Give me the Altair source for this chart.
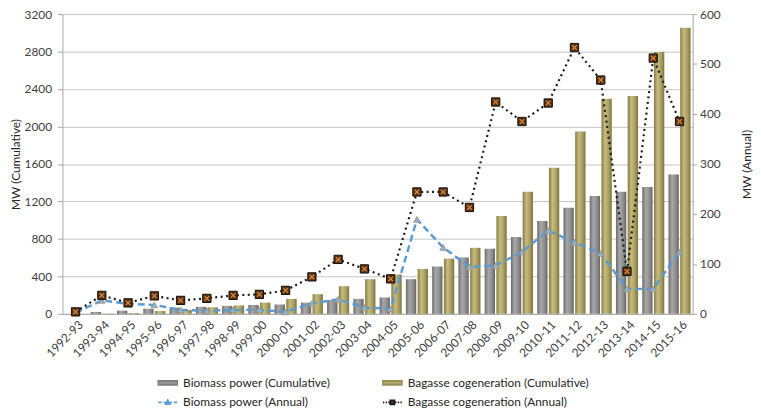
import altair as alt
import pandas as pd

years = ['1992-93', '1993-94', '1994-95', '1995-96', '1996-97', '1997-98', '1998-99', '1999-00',
         '2000-01', '2001-02', '2002-03', '2003-04', '2004-05', '2005-06', '2006-07', '2007-08',
         '2008-09', '2009-10', '2010-11', '2011-12', '2012-13', '2013-14', '2014-15', '2015-16']
biomass_cum = [0, 20, 34, 55, 65, 75, 85, 95, 100, 120, 147, 160, 175, 370, 505, 602,
               695, 820, 992, 1132, 1259, 1303, 1354, 1488]
bagasse_cum = [0, 5, 8, 30, 40, 70, 90, 120, 160, 210, 295, 370, 420, 480, 590, 705,
               1045, 1303, 1560, 1947, 2297, 2325, 2795, 3055]
biomass_ann = [2, 27, 20, 18, 8, 6, 8, 8, 4, 21, 29, 13, 10, 189, 133, 94,
               97, 124, 167, 143, 121, 50, 50, 124]
bagasse_ann = [4, 37, 22, 36, 27, 31, 37, 39, 47, 74, 109, 90, 70, 244, 244, 213,
               424, 385, 422, 533, 468, 85, 512, 385]
left_ticks = [0, 400, 800, 1200, 1600, 2000, 2400, 2800, 3200]
right_ticks = [0, 100, 200, 300, 400, 500, 600]

S_BC = 'Biomass power (Cumulative)'
S_GC = 'Bagasse cogeneration (Cumulative)'
S_BA = 'Biomass power (Annual)'
S_GA = 'Bagasse cogeneration (Annual)'
n = len(years)

cum = pd.DataFrame({'year': years * 2, 'series': [S_BC] * n + [S_GC] * n,
                    'value': biomass_cum + bagasse_cum})
ann = pd.DataFrame({'year': years * 2, 'series': [S_BA] * n + [S_GA] * n,
                    'value': biomass_ann + bagasse_ann})

FONT = 'Lato'
AX = '#a6a6a6'
LBL = '#404040'
H = 303

X = alt.X('year:N', sort=years, title=None,
          scale=alt.Scale(type='band', paddingInner=0.16, paddingOuter=0.08),
          axis=alt.Axis(labelAngle=315, ticks=False, domainColor=AX, labelColor=LBL,
                        labelFontSize=12, labelPadding=5, labelOffset=2, grid=False,
                        labelOverlap=False))

YL = alt.Y('value:Q', scale=alt.Scale(domain=[0, 3200], nice=False),
           axis=alt.Axis(orient='left', values=left_ticks, format='d', tickSize=5, tickColor=AX,
                         domainColor=AX, grid=True, gridColor='#c4c4c4', labelColor=LBL,
                         labelFontSize=12, labelPadding=6, labelFlush=False,
                         title='MW (Cumulative)', titleFontSize=12, titleFontWeight='normal',
                         titleColor='#262626', titleAngle=270, titleX=-47, titleY=H / 2,
                         titleAlign='center', titleBaseline='middle'))

YR = alt.Y('value:Q', scale=alt.Scale(domain=[0, 600], nice=False),
           axis=alt.Axis(orient='right', values=right_ticks, format='d', tickSize=4, tickColor=AX,
                         domainColor=AX, grid=False, labelColor=LBL, labelFontSize=12,
                         labelPadding=3, labelFlush=False,
                         title='MW (Annual)', titleFontSize=12, titleFontWeight='normal',
                         titleColor='#262626', titleAngle=270, titleX=54, titleY=H / 2,
                         titleAlign='center', titleBaseline='middle'))

XO = alt.XOffset('series:N', sort=[S_BC, S_GC],
                 scale=alt.Scale(domain=[S_BC, S_GC], paddingInner=0.12))


def grad(stops):
    return alt.Gradient(gradient='linear', x1=0, x2=1, y1=0, y2=0,
                        stops=[alt.GradientStop(offset=o, color=c) for o, c in stops])


gray_grad = grad([(0, '#6c6c6c'), (0.35, '#a8a8a8'), (0.7, '#8e8e8e'), (1, '#666666')])
olive_grad = grad([(0, '#857b42'), (0.35, '#c6bc80'), (0.7, '#a99f62'), (1, '#7d733b')])

base_cum = alt.Chart(cum)
bars_bio = base_cum.mark_bar(fill=gray_grad).encode(x=X, xOffset=XO, y=YL).transform_filter(
    alt.datum.series == S_BC)
bars_bag = base_cum.mark_bar(fill=olive_grad).encode(x=X, xOffset=XO, y=YL).transform_filter(
    alt.datum.series == S_GC)
bars = alt.layer(bars_bio, bars_bag)

base_ann = alt.Chart(ann)
line_bio = base_ann.mark_line(stroke='#5b9bd5', strokeWidth=2.5, strokeDash=[7, 4]).encode(
    x=X, y=YR).transform_filter(alt.datum.series == S_BA)
tri = base_ann.mark_point(shape='triangle-up', filled=True, fill='#7fb9e2', stroke='#b08a60',
                          strokeWidth=0.8, size=45, opacity=1).encode(
    x=X, y=YR).transform_filter(alt.datum.series == S_BA)
line_bag = base_ann.mark_line(stroke='#1a1a1a', strokeWidth=2.2, strokeDash=[2, 3.5]).encode(
    x=X, y=YR).transform_filter(alt.datum.series == S_GA)
sq = base_ann.mark_point(shape='square', filled=True, fill='#5b3110', stroke='#111111',
                         strokeWidth=1, size=70, opacity=1).encode(
    x=X, y=YR).transform_filter(alt.datum.series == S_GA)
xs = base_ann.mark_point(shape='M-1,-1L1,1M1,-1L-1,1', filled=False, stroke='#e08a3c',
                         strokeWidth=1.2, size=22, opacity=1).encode(
    x=X, y=YR).transform_filter(alt.datum.series == S_GA)

# legend entries ordered so that the 2-column grid reads like the reference
leg_names = [S_BC, S_BA, S_GC, S_GA]
bar_path = 'M-1,-0.2H1V0.2H-1Z'
leg_paths = [
    bar_path,
    'M-1,0H-0.65M-0.45,0H-0.25M0.25,0H0.45M0.65,0H1M-0.22,0.18L0,-0.24L0.22,0.18Z',
    bar_path,
    'M-1,0H-0.86M-0.72,0H-0.58M-0.44,0H-0.3M0.3,0H0.44M0.58,0H0.72M0.86,0H1'
    'M-0.22,-0.22H0.22V0.22H-0.22Z',
]
leg_fill = ['#9a9a9a', '#7fb9e2', '#b3a96c', '#5b3110']
leg_stroke = ['#808080', '#5b9bd5', '#9a905a', '#1a1a1a']
LEG = dict(orient='none', legendX=96, legendY=362, columns=2, title=None, symbolSize=361,
           symbolStrokeWidth=1.8, labelFont=FONT, labelFontSize=12, labelColor='#262626',
           labelOffset=5, columnPadding=49, rowPadding=3, symbolOpacity=1, labelLimit=400)

carrier = base_ann.mark_point(filled=True, size=361, opacity=1).encode(
    x=X, y=YR,
    fill=alt.Fill('series:N', sort=leg_names,
                  scale=alt.Scale(domain=leg_names, range=leg_fill), legend=alt.Legend(**LEG)),
    stroke=alt.Stroke('series:N', sort=leg_names,
                      scale=alt.Scale(domain=leg_names, range=leg_stroke), legend=alt.Legend(**LEG)),
    shape=alt.Shape('series:N', sort=leg_names,
                    scale=alt.Scale(domain=leg_names, range=leg_paths), legend=alt.Legend(**LEG)),
).transform_filter('false')

lines = alt.layer(line_bio, tri, line_bag, sq, xs, carrier)

chart = alt.layer(bars, lines).resolve_scale(y='independent').properties(
    width=637, height=H,
    autosize=alt.AutoSizeParams(type='none'),
    padding={'left': 55, 'top': 4, 'right': 61, 'bottom': 93},
).configure(font=FONT).configure_view(stroke=None)

chart.save('out.html', embed_options={'renderer': 'svg', 'actions': False})
